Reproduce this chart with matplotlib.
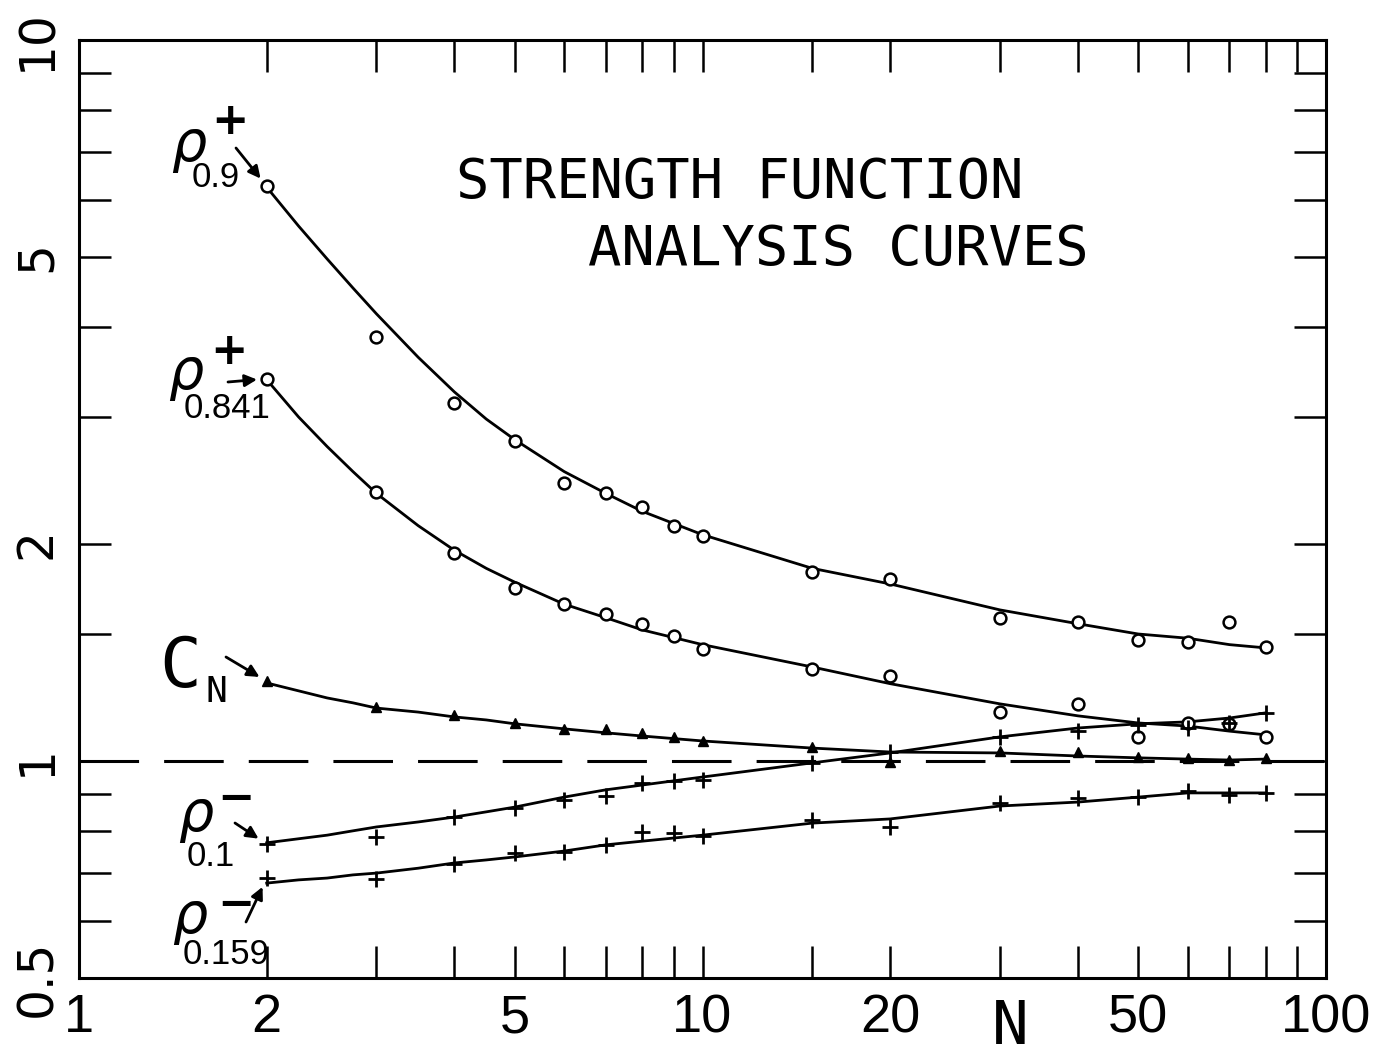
import matplotlib
matplotlib.use('Agg')
import matplotlib.pyplot as plt
from matplotlib.ticker import NullLocator

# measured points
n_pts = [2, 3, 4, 5, 6, 7, 8, 9, 10, 15, 20, 30, 40, 50, 60, 70, 80]
rho_p090 = [6.27, 3.87, 3.14, 2.78, 2.43, 2.35, 2.25, 2.12, 2.05, 1.83, 1.79,
            1.58, 1.56, 1.47, 1.46, 1.56, 1.44]
rho_p0841 = [3.39, 2.36, 1.94, 1.74, 1.65, 1.60, 1.55, 1.49, 1.43, 1.34, 1.31,
             1.17, 1.20, 1.08, 1.13, 1.125, 1.08]
c_n = [1.29, 1.19, 1.158, 1.129, 1.108, 1.108, 1.093, 1.08, 1.066, 1.046, 0.997,
       1.032, 1.029, 1.013, 1.01, 1.003, 1.01]
rho_m01 = [0.767, 0.784, 0.836, 0.861, 0.883, 0.894, 0.932, 0.938, 0.941, 0.994,
           1.029, 1.08, 1.10, 1.12, 1.11, 1.13, 1.166]
rho_m0159 = [0.688, 0.686, 0.72, 0.746, 0.748, 0.765, 0.797, 0.795, 0.787, 0.828,
             0.81, 0.874, 0.889, 0.891, 0.909, 0.897, 0.903]

# fitted curves
n_curve = [2, 2.25, 2.5, 2.75, 3, 3.5, 4, 4.5, 5, 6, 7, 8, 10,
           15, 20, 30, 40, 50, 60, 70, 80]
curve_p090 = [6.25, 5.52, 4.97, 4.53, 4.17, 3.63, 3.25, 2.98, 2.79, 2.52, 2.35,
              2.22, 2.06, 1.85, 1.76, 1.62, 1.55, 1.50, 1.48, 1.45, 1.435]
curve_p0841 = [3.38, 3.00, 2.73, 2.52, 2.35, 2.12, 1.96, 1.85, 1.77, 1.65, 1.58,
               1.52, 1.45, 1.35, 1.28, 1.20, 1.155, 1.129, 1.118, 1.10, 1.087]
curve_cn = [1.283, 1.251, 1.223, 1.204, 1.184, 1.169, 1.151, 1.140, 1.126, 1.108,
            1.094, 1.083, 1.066, 1.042, 1.029, 1.026, 1.016, 1.010, 1.006, 1.003,
            1.006]
curve_m01 = [0.770, 0.780, 0.789, 0.800, 0.810, 0.823, 0.836, 0.850, 0.863, 0.891,
             0.912, 0.926, 0.950, 0.994, 1.026, 1.080, 1.111, 1.126, 1.133, 1.147,
             1.166]
curve_m0159 = [0.677, 0.684, 0.688, 0.695, 0.699, 0.710, 0.722, 0.729, 0.736, 0.750,
               0.765, 0.774, 0.789, 0.820, 0.831, 0.866, 0.877, 0.891, 0.903, 0.903,
               0.903]

# axes ticks
x_ticks = [1, 2, 3, 4, 5, 6, 7, 8, 9, 10, 15, 20, 30, 40, 50, 60, 70, 80, 90, 100]
x_labels = {1: '1', 2: '2', 5: '5', 10: '10', 20: '20', 50: '50', 100: '100'}
y_ticks = [0.5, 0.6, 0.7, 0.8, 0.9, 1, 1.5, 2, 3, 4, 5, 6, 7, 8, 9, 10]
y_labels = {0.5: '0.5', 1: '1', 2: '2', 5: '5', 10: '10'}

W, H = 1377, 1059
sans = ['Liberation Sans', 'DejaVu Sans']
mono = ['DejaVu Sans Mono', 'DejaVu Sans']


def fxy(px, py):
    # image pixel -> figure fraction
    return (px / W, 1 - py / H)


fig = plt.figure(figsize=(W / 100, H / 100), dpi=100)
ax = fig.add_axes([79 / W, 1 - 978 / H, 1247 / W, 938 / H])
ax.set_xscale('log')
ax.set_yscale('log')
ax.set_xlim(1, 100)
ax.set_ylim(0.5, 10)

# reference line
ax.axhline(1, color='black', lw=2.2, ls=(0, (19.5, 8.2)), zorder=1)

# curves
for cy in [curve_p090, curve_p0841, curve_cn, curve_m01, curve_m0159]:
    ax.plot(n_curve, cy, color='black', lw=2.0, solid_joinstyle='round')

# markers
ax.plot(n_pts, rho_p090, 'o', ms=8.5, mfc='white', mec='black', mew=1.8)
ax.plot(n_pts, rho_p0841, 'o', ms=8.5, mfc='white', mec='black', mew=1.8)
ax.plot(n_pts, c_n, '^', ms=7.5, color='black')
ax.plot(n_pts, rho_m01, '+', ms=11, mew=2, color='black')
ax.plot(n_pts, rho_m0159, '+', ms=11, mew=2, color='black')

# ticks
ax.xaxis.set_minor_locator(NullLocator())
ax.yaxis.set_minor_locator(NullLocator())
ax.set_xticks(x_ticks)
ax.set_xticklabels([x_labels.get(t, '') for t in x_ticks], family=sans, fontsize=39)
ax.set_yticks(y_ticks)
ax.set_yticklabels([y_labels.get(t, '') for t in y_ticks], rotation=90,
                   va='center', fontsize=35)
ax.tick_params(which='major', direction='in', length=23, width=1.8,
               top=True, right=True)
ax.tick_params(axis='x', pad=11)
ax.tick_params(axis='y', pad=13)
for s in ax.spines.values():
    s.set_linewidth(2.2)

fig.text(*fxy(1010, 1028), 'N', fontsize=44, family=mono, ha='center', va='center')

# title
fig.text(*fxy(740, 183), 'STRENGTH FUNCTION', fontsize=40, family=mono,
         ha='center', va='center')
fig.text(*fxy(838, 250), 'ANALYSIS CURVES', fontsize=40, family=mono,
         ha='center', va='center')


def curve_label(center, sign, sign_xy, sub, sub_xy, tail, target):
    fig.text(*fxy(*center), r'$\rho$', fontsize=40, ha='center', va='center')
    fig.text(*fxy(*sign_xy), sign, fontsize=32, fontweight='bold',
             ha='center', va='center')
    fig.text(*fxy(*sub_xy), sub, fontsize=25, family=sans,
             ha='center', va='center')
    ax.annotate('', xy=target, xycoords='data', xytext=fxy(*tail),
                textcoords='figure fraction',
                arrowprops=dict(arrowstyle='-|>', lw=2, color='black',
                                mutation_scale=18, shrinkA=0, shrinkB=7))


curve_label((189, 148), '+', (230, 121), '0.9', (216, 178), (236, 148),
            (n_pts[0], rho_p090[0]))
curve_label((186, 376), '+', (229, 352), '0.841', (227, 409), (228, 382),
            (n_pts[0], rho_p0841[0]))
curve_label((196, 818), '\u2212', (236, 798), '0.1', (211, 856), (235, 823),
            (n_pts[0], rho_m01[0]))
curve_label((190, 920), '\u2212', (236, 905), '0.159', (226, 955), (246, 922),
            (n_pts[0], rho_m0159[0]))

# C_N label
fig.text(*fxy(180, 667), 'C', fontsize=50, family=mono, ha='center', va='center')
fig.text(*fxy(216, 692), 'N', fontsize=26, family=mono, ha='center', va='center')
ax.annotate('', xy=(n_pts[0], c_n[0]), xycoords='data', xytext=fxy(226, 657),
            textcoords='figure fraction',
            arrowprops=dict(arrowstyle='-|>', lw=2, color='black',
                            mutation_scale=18, shrinkA=0, shrinkB=6))

fig.savefig('out.png', dpi=100)
